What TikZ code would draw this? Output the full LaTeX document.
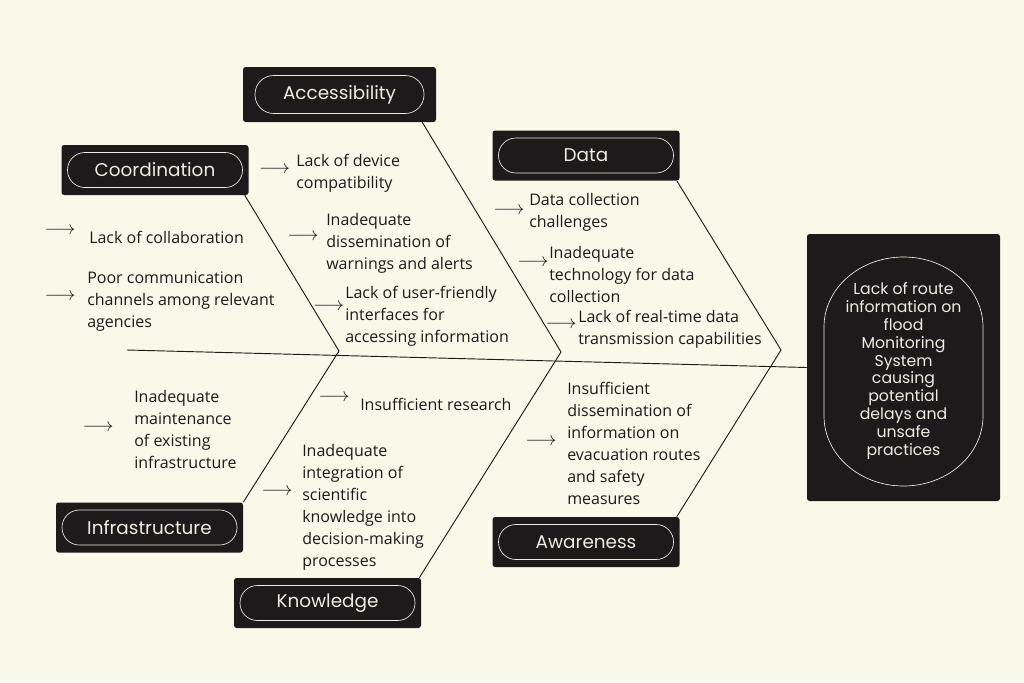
\documentclass[tikz,border=0pt]{standalone}
\usepackage{fontspec}
\setmainfont{Open Sans}
\newfontfamily\labelfont{Poppins}
\usetikzlibrary{calc,positioning}

\definecolor{paper}{RGB}{249,249,234}
\definecolor{ink}{RGB}{28,26,26}
\definecolor{cream}{RGB}{240,236,226}

\begin{document}
\begin{tikzpicture}[x=0.75pt, y=-0.75pt,
    every node/.style={align=left},
    catbox/.style={fill=ink, rounded corners=2pt, minimum width=140.25pt, minimum height=37.5pt, inner sep=0pt},
    pill/.style={draw=cream, line width=0.5pt, rounded corners=13pt, minimum width=131.25pt, minimum height=26.25pt, inner sep=0pt, text=cream, font=\labelfont\fontsize{13.8}{15}\selectfont},
    cause/.style={anchor=west, inner sep=0pt, text=ink, font=\fontsize{12}{16.5}\selectfont},
    arr/.style={inner sep=0pt, text=ink, font=\fontsize{13.5}{14}\selectfont},
    bone/.style={draw=ink, line width=0.7pt}]
    % background
    \fill[paper] (0,0) rectangle (1024,682);
    \useasboundingbox (0,0) rectangle (1024,682);

    % categories
    \node[catbox, minimum width=144.75pt, minimum height=41.25pt] (access) at (339.5,94.5) {};
    \node[pill, minimum width=126.75pt, minimum height=28.5pt, rounded corners=14pt] at (access) {Accessibility};
    \node[catbox] (coord) at (155,170) {};
    \node[pill] at (coord) {Coordination};
    \node[catbox] (data) at (586,155.5) {};
    \node[pill] at (data) {Data};
    \node[catbox] (infra) at (149.5,527.5) {};
    \node[pill] at (infra) {Infrastructure};
    \node[catbox] (know) at (327.5,603) {};
    \node[pill] at (know) {Knowledge};
    \node[catbox] (aware) at (586,542) {};
    \node[pill] at (aware) {Awareness};

    % effect
    \node[catbox, minimum width=144.75pt, minimum height=200.25pt] (effect) at (903.5,367.5) {};
    \draw[cream, line width=0.5pt] (824,327) arc[start angle=180, end angle=360, x radius=79.5, y radius=70]
        -- (983,416) arc[start angle=0, end angle=180, x radius=79.5, y radius=70] -- cycle;
    \node[align=center, text=cream, font=\labelfont\fontsize{11.8}{13.4}\selectfont] (problem) at (903.5,371)
        {Lack of route\\information on\\flood\\Monitoring\\System\\causing\\potential\\delays and\\unsafe\\practices};

    % spine and bones
    \coordinate (tail) at (127,350);
    \coordinate (t1) at (339,351);
    \coordinate (t2) at (561,352);
    \coordinate (t3) at (781,350);
    \draw[bone] (tail) -- (effect.west);
    \draw[bone] ($(coord.south east)+(-4,0)$) -- (t1) -- (infra.north east);
    \draw[bone] ($(access.south east)+(-14,0)$) -- (t2) -- ($(know.north east)+(-2,0)$);
    \draw[bone] ($(data.south east)+(-3,0)$) -- (t3) -- ($(aware.north east)+(-3,0)$);

    % causes
    \node[arr] (a1) at (60,231) {$\longrightarrow$};
    \node[cause] (c1) at (89,237) {Lack of collaboration};
    \node[arr] (a2) at (60,297) {$\longrightarrow$};
    \node[cause] (c2) at (87,302) {Poor communication\\channels among relevant\\agencies};
    \node[arr] (a3) at (274.5,170) {$\longrightarrow$};
    \node[cause] (c3) at (296,173) {Lack of device\\compatibility};
    \node[arr] (a4) at (303,237) {$\longrightarrow$};
    \node[cause] (c4) at (326,243) {Inadequate\\dissemination of\\warnings and alerts};
    \node[arr] (a5) at (328.5,307) {$\longrightarrow$};
    \node[cause] (c5) at (345,316) {Lack of user-friendly\\interfaces for\\accessing information};
    \node[arr] (a6) at (509,211) {$\longrightarrow$};
    \node[cause] (c6) at (529,212) {Data collection\\challenges};
    \node[arr] (a7) at (533,263) {$\longrightarrow$};
    \node[cause] (c7) at (549,274) {Inadequate\\technology for data\\collection};
    \node[arr] (a8) at (561,325) {$\longrightarrow$};
    \node[cause] (c8) at (578,329) {Lack of real-time data\\transmission capabilities};
    \node[arr] (a9) at (98,428) {$\longrightarrow$};
    \node[cause] (c9) at (134,429) {Inadequate\\maintenance\\of existing\\infrastructure};
    \node[arr] (a10) at (334,398) {$\longrightarrow$};
    \node[cause] (c10) at (360,404) {Insufficient research};
    \node[arr] (a11) at (277,492) {$\longrightarrow$};
    \node[cause] (c11) at (302,507) {Inadequate\\integration of\\scientific\\knowledge into\\decision-making\\processes};
    \node[arr] (a12) at (541,442) {$\longrightarrow$};
    \node[cause] (c12) at (567,443) {Insufficient\\dissemination of\\information on\\evacuation routes\\and safety\\measures};
\end{tikzpicture}
\end{document}
